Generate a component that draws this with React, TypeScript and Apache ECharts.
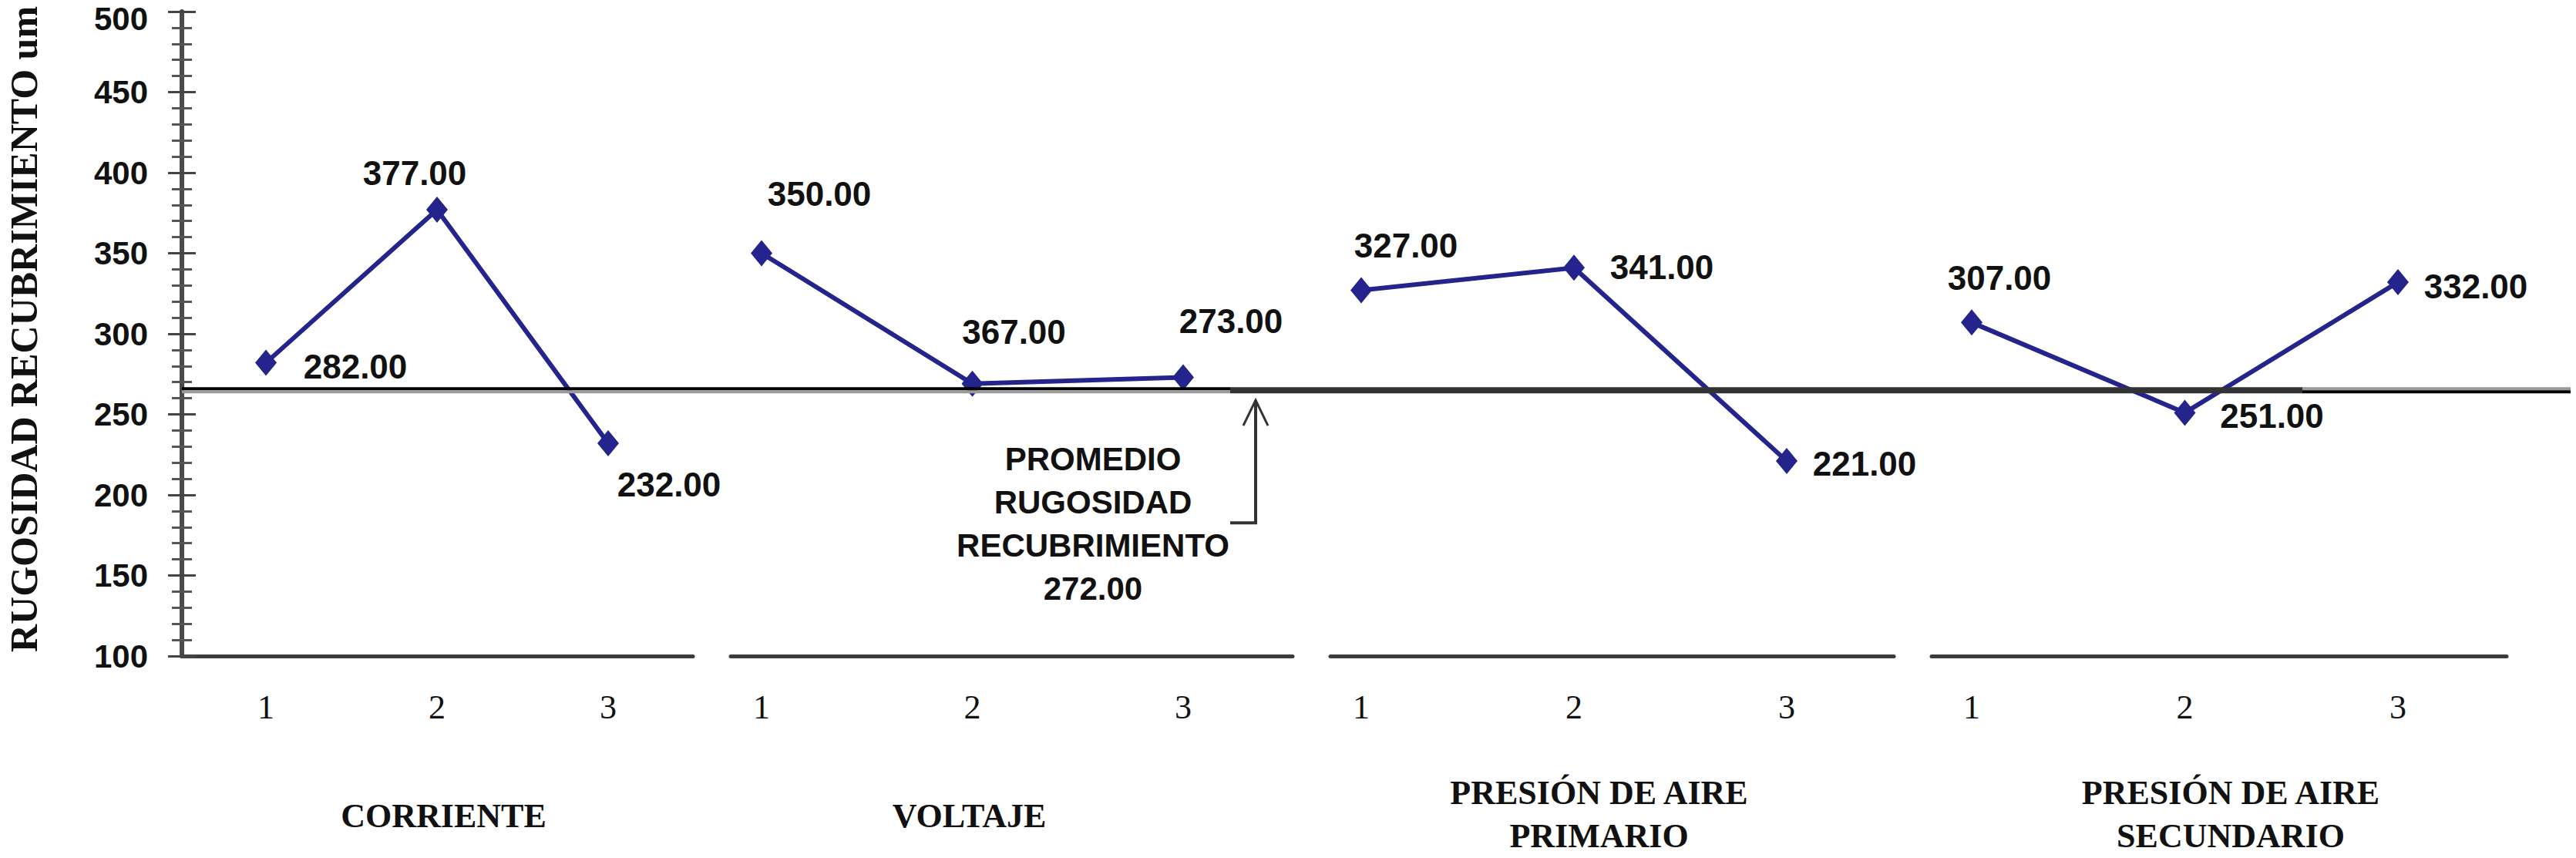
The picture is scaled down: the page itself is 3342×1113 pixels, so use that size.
import React, { useEffect, useRef } from "react";
import * as echarts from "echarts";

// ---------------- data ----------------
const niveles = [1, 2, 3];
const factores = [
  "CORRIENTE",
  "VOLTAJE",
  "PRESIÓN DE AIRE\nPRIMARIO",
  "PRESIÓN DE AIRE\nSECUNDARIO",
];
const corriente = [282, 377, 232];
const voltaje = [350, 269, 273];
const presionPrimario = [327, 341, 221];
const presionSecundario = [307, 251, 332];
const etiquetasCorriente = ["282.00", "377.00", "232.00"];
const etiquetasVoltaje = ["350.00", "367.00", "273.00"];
const etiquetasPrimario = ["327.00", "341.00", "221.00"];
const etiquetasSecundario = ["307.00", "251.00", "332.00"];
const yMin = 100;
const yMax = 500;
const yInterval = 50;
const promedioLinea = 265;
const promedioTexto = ["PROMEDIO", "RUGOSIDAD", "RECUBRIMIENTO", "272.00"];
const tituloEjeY = "RUGOSIDAD RECUBRIMIENTO um";

const valores = [corriente, voltaje, presionPrimario, presionSecundario];
const etiquetas = [etiquetasCorriente, etiquetasVoltaje, etiquetasPrimario, etiquetasSecundario];

// ---------------- layout ----------------
const W = 3342;
const H = 1113;
const GRID_TOP = 15;
const GRID_H = 836;
const panels = [
  { left: 236, right: 899, x1: 345, x3: 789, nameGap: 179, nameShift: 8 },
  { left: 948, right: 1677, x1: 988, x3: 1535, nameGap: 179, nameShift: -55 },
  { left: 1726, right: 2457, x1: 1766, x3: 2318, nameGap: 149, nameShift: -17 },
  { left: 2506, right: 3252, x1: 2558, x3: 3111, nameGap: 149, nameShift: 15 },
];
const labelOffsets = [
  [[116, 5], [-29, -48], [79, 53]],
  [[75, -77], [54, -67], [62, -73]],
  [[58, -58], [114, -1], [101, 3]],
  [[36, -58], [113, 4], [101, 5]],
];
const LINE_COLOR = "#24248C";
const SANS = '"Liberation Sans", Arial, sans-serif';
const SERIF = '"Liberation Serif", "Times New Roman", serif';

export default function App() {
  const ref = useRef<HTMLDivElement>(null);

  useEffect(() => {
    if (!ref.current) return;
    const chart = echarts.init(ref.current, undefined, { renderer: "svg" });

    const first = niveles[0];
    const last = niveles[niveles.length - 1];

    const grids = panels.map((p) => ({
      left: p.left,
      width: p.right - p.left,
      top: GRID_TOP,
      height: GRID_H,
      containLabel: false,
      outerBoundsMode: "none",
    }));

    const xAxes = panels.map((p, i) => {
      const unit = (p.x3 - p.x1) / (last - first);
      const min = first - (p.x1 - p.left) / unit;
      const max = last + (p.right - p.x3) / unit;
      const shift = p.nameShift;
      return {
        type: "value",
        gridIndex: i,
        position: "bottom",
        min,
        max,
        axisLine: { show: true, onZero: false, lineStyle: { color: "#3c3c3c", width: 5 } },
        axisTick: { show: false },
        splitLine: { show: false },
        axisLabel: {
          customValues: niveles,
          formatter: (v: number) => String(v),
          fontFamily: SERIF,
          fontSize: 44,
          color: "#111",
          margin: 44,
        },
        name: factores[i],
        nameLocation: "middle",
        nameGap: p.nameGap,
        nameTextStyle: {
          fontFamily: SERIF,
          fontWeight: "bold",
          fontSize: 44,
          lineHeight: 56,
          color: "#111",
          padding: shift >= 0 ? [0, 0, 0, 2 * shift] : [0, -2 * shift, 0, 0],
        },
      };
    });

    const yAxes: any[] = [
      {
        type: "value",
        gridIndex: 0,
        position: "left",
        min: yMin,
        max: yMax,
        interval: yInterval,
        axisLine: { show: true, lineStyle: { color: "#4a4a4a", width: 6 } },
        axisTick: { show: true, length: 18, lineStyle: { color: "#444", width: 3 } },
        minorTick: { show: true, splitNumber: 5, length: 13, lineStyle: { color: "#555", width: 3 } },
        splitLine: { show: false },
        axisLabel: {
          fontFamily: SANS,
          fontWeight: "bold",
          fontSize: 42,
          lineHeight: 28,
          color: "#111",
          margin: 44,
          formatter: (v: number) => (v === yMax ? `{top|${v}}` : String(v)),
          rich: {
            top: {
              fontFamily: SANS,
              fontWeight: "bold",
              fontSize: 42,
              lineHeight: 28,
              color: "#111",
              padding: [18, 0, 0, 0],
            },
          },
        },
        name: tituloEjeY,
        nameLocation: "middle",
        nameRotate: 90,
        nameGap: 195,
        nameTextStyle: {
          fontFamily: SERIF,
          fontWeight: "bold",
          fontSize: 50,
          lineHeight: 20,
          color: "#111",
          padding: [0, 0, 0, 12],
        },
      },
      {
        type: "value",
        gridIndex: 0,
        position: "left",
        offset: 0,
        min: yMin,
        max: yMax,
        interval: yInterval,
        axisLine: { show: false },
        axisTick: { show: true, inside: true, length: 18, lineStyle: { color: "#444", width: 3 } },
        minorTick: { show: true, splitNumber: 5, length: 13, lineStyle: { color: "#555", width: 3 } },
        splitLine: { show: false },
        axisLabel: { show: false },
      },
    ];
    for (let i = 1; i < panels.length; i++) {
      yAxes.push({ type: "value", gridIndex: i, position: "left", min: yMin, max: yMax, interval: yInterval, show: false });
    }
    const yIndexFor = [0, 2, 3, 4];

    const series = valores.map((vals, i) => ({
      type: "line",
      xAxisIndex: i,
      yAxisIndex: yIndexFor[i],
      symbol: "diamond",
      symbolSize: [28, 34],
      itemStyle: { color: LINE_COLOR },
      lineStyle: { color: LINE_COLOR, width: 6 },
      z: 3,
      label: {
        show: true,
        position: "inside",
        formatter: (p: any) => etiquetas[i][p.dataIndex],
        fontFamily: SANS,
        fontWeight: "bold",
        fontSize: 44,
        color: "#111",
      },
      data: vals.map((v, j) => ({
        value: [niveles[j], v],
        label: { offset: labelOffsets[i][j] },
      })),
    }));

    chart.setOption({
      animation: false,
      backgroundColor: "#ffffff",
      grid: grids,
      xAxis: xAxes,
      yAxis: yAxes,
      series,
    });

    const yAvg = chart.convertToPixel({ yAxisIndex: 0 }, promedioLinea) as number;
    const xStart = chart.convertToPixel({ xAxisIndex: 0 }, xAxes[0].min as number) as number;
    const xEnd = panels[3].right + 83;
    const split1 = 1596;
    const split2 = 2987;
    const arrowX = 1629;
    const textX = 1418;

    const ln = (x1: number, y1: number, x2: number, y2: number, stroke: string, w: number) => ({
      type: "line",
      z: 100,
      shape: { x1, y1, x2, y2 },
      style: { stroke, lineWidth: w },
    });

    chart.setOption({
      graphic: [
        ln(xStart, yAvg - 2, split1, yAvg - 2, "#000", 4),
        ln(xStart, yAvg + 2, split1, yAvg + 2, "#9a9a9a", 4),
        ln(split1, yAvg, split2, yAvg, "#333", 8),
        ln(split2, yAvg - 2, xEnd, yAvg - 2, "#9a9a9a", 4),
        ln(split2, yAvg + 2, xEnd, yAvg + 2, "#000", 4),
        {
          type: "polyline",
          z: 100,
          shape: { points: [[split1, yAvg + 172], [arrowX, yAvg + 172], [arrowX, yAvg + 13]] },
          style: { stroke: "#333", lineWidth: 4, fill: "none" },
        },
        {
          type: "polyline",
          z: 100,
          shape: { points: [[arrowX - 16, yAvg + 46], [arrowX, yAvg + 13], [arrowX + 16, yAvg + 46]] },
          style: { stroke: "#333", lineWidth: 3, fill: "none" },
        },
        {
          type: "text",
          z: 100,
          x: textX,
          y: yAvg + 61,
          style: {
            text: promedioTexto.join("\n"),
            fill: "#111",
            fontFamily: SANS,
            fontWeight: "bold",
            fontSize: 42,
            lineHeight: 56,
            align: "center",
            textAlign: "center",
            verticalAlign: "top",
            textVerticalAlign: "top",
          },
        },
      ],
    });

    return () => {
      chart.dispose();
    };
  }, []);

  return (
    <div
      ref={ref}
      style={{ position: "absolute", left: 0, top: 0, width: W, height: H, background: "#fff" }}
    />
  );
}
